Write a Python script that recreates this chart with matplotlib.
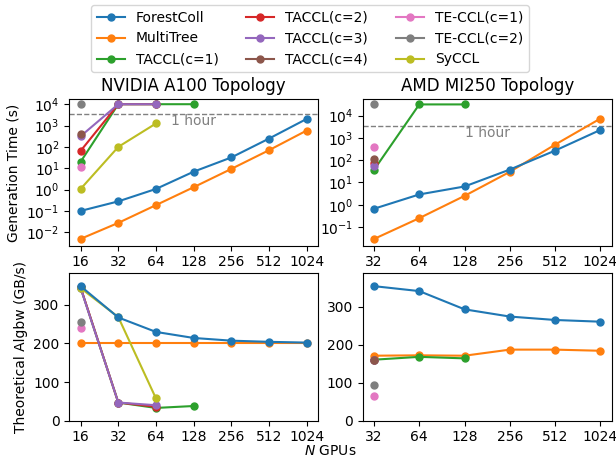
import numpy as np
import matplotlib
matplotlib.use("Agg")
import matplotlib.pyplot as plt
from matplotlib.ticker import NullLocator, FixedLocator, FixedFormatter
import matplotlib.transforms as mtrans

names = ["ForestColl", "MultiTree", "TACCL(c=1)", "TACCL(c=2)", "TACCL(c=3)",
         "TACCL(c=4)", "TE-CCL(c=1)", "TE-CCL(c=2)", "SyCCL"]
colors = ["C0", "C1", "C2", "C3", "C4", "C5", "C6", "C7", "C8"]

gpus_nv = [16, 32, 64, 128, 256, 512, 1024]
gpus_amd = [32, 64, 128, 256, 512, 1024]

# generation time (s), NVIDIA A100
time_nv = {
    "ForestColl": [0.1, 0.28, 1.07, 6.9, 32, 245, 2050],
    "MultiTree": [0.0049, 0.0275, 0.187, 1.29, 9.3, 70, 585],
    "TACCL(c=1)": [20, 1e4, 1e4, 1e4],
    "TACCL(c=2)": [65, 1e4, 1e4],
    "TACCL(c=3)": [316, 1e4, 1e4],
    "TACCL(c=4)": [420],
    "TE-CCL(c=1)": [11],
    "TE-CCL(c=2)": [1e4],
    "SyCCL": [1.07, 100, 1250],
}
# algbw (GB/s), NVIDIA A100
bw_nv = {
    "ForestColl": [348, 267, 229.6, 214, 207, 204, 202],
    "MultiTree": [200, 200, 200, 200, 200, 200, 200],
    "TACCL(c=1)": [344, 47, 33, 38],
    "TACCL(c=2)": [345, 47, 36],
    "TACCL(c=3)": [343, 47, 40],
    "TACCL(c=4)": [345],
    "TE-CCL(c=1)": [241],
    "TE-CCL(c=2)": [254],
    "SyCCL": [343, 268, 57.6],
}
# generation time (s), AMD MI250
time_amd = {
    "ForestColl": [0.66, 2.9, 6.6, 38, 270, 2290],
    "MultiTree": [0.029, 0.25, 2.5, 30, 500, 7400],
    "TACCL(c=1)": [37, 32000, 32000],
    "TACCL(c=2)": [72],
    "TACCL(c=3)": [57],
    "TACCL(c=4)": [118],
    "TE-CCL(c=1)": [385],
    "TE-CCL(c=2)": [32000],
    "SyCCL": [],
}
# algbw (GB/s), AMD MI250
bw_amd = {
    "ForestColl": [354, 341, 293, 274, 265, 260.5],
    "MultiTree": [171, 172, 171, 187, 187, 184],
    "TACCL(c=1)": [160.5, 168, 164],
    "TACCL(c=2)": [160],
    "TACCL(c=3)": [160],
    "TACCL(c=4)": [160],
    "TE-CCL(c=1)": [64],
    "TE-CCL(c=2)": [93],
    "SyCCL": [],
}

fig = plt.figure(figsize=(6.16, 4.59), dpi=100)
W, H = 616, 459
def ax_at(l, t, r, b):
    return fig.add_axes([l / W, 1 - b / H, (r - l) / W, (b - t) / H])

ax_nt = ax_at(69.3, 99.3, 318, 245.7)
ax_at_ = ax_at(362.7, 99.3, 611.7, 245.7)
ax_nb = ax_at(69.3, 272.7, 318, 420.7)
ax_ab = ax_at(362.7, 272.7, 611.7, 420.7)

def draw(ax, xs, data):
    for name, c in zip(names, colors):
        v = data[name]
        if len(v) == 0:
            continue
        z = 3 if name == "ForestColl" else 2
        ax.plot(xs[:len(v)], v, marker="o", color=c, lw=1.5, ms=5,
                label=name, zorder=z)

draw(ax_nt, gpus_nv, time_nv)
draw(ax_at_, gpus_amd, time_amd)
draw(ax_nb, gpus_nv, bw_nv)
draw(ax_ab, gpus_amd, bw_amd)

for ax, xs in [(ax_nt, gpus_nv), (ax_at_, gpus_amd), (ax_nb, gpus_nv), (ax_ab, gpus_amd)]:
    ax.set_xscale("log", base=2)
    ax.xaxis.set_major_locator(FixedLocator(xs))
    ax.xaxis.set_major_formatter(FixedFormatter([str(x) for x in xs]))
    ax.xaxis.set_minor_locator(NullLocator())

for ax, lo, hi, decs in [(ax_nt, -2.63, 4.23, range(-2, 5)), (ax_at_, -1.84, 4.735, range(-1, 5))]:
    ax.set_yscale("log")
    ax.set_ylim(10 ** lo, 10 ** hi)
    ax.yaxis.set_major_locator(FixedLocator([10.0 ** d for d in decs]))
    ax.yaxis.set_minor_locator(NullLocator())
    ax.axhline(3600, color="gray", ls="--", lw=1, zorder=1)
    tr = mtrans.blended_transform_factory(ax.transAxes, ax.transData)
    ax.text(0.5, 3600, "1 hour", transform=tr, ha="center", va="top",
            color="gray", fontsize=10)

ax_nb.set_ylim(0, 1.1 * max(bw_nv["ForestColl"]))
ax_ab.set_ylim(0, 1.1 * max(bw_amd["ForestColl"]))
ax_nb.set_yticks([0, 100, 200, 300])
ax_ab.set_yticks([0, 100, 200, 300])

ax_nt.set_title("NVIDIA A100 Topology", fontsize=12)
ax_at_.set_title("AMD MI250 Topology", fontsize=12)
ax_nt.set_ylabel("Generation Time (s)")
ax_nb.set_ylabel("Theoretical Algbw (GB/s)")
fig.text(330 / W, 1 - 451 / H, "$N$ GPUs", ha="center", va="center", fontsize=10)

handles, labels = ax_nt.get_legend_handles_labels()
fig.legend(handles, labels, loc="upper center", bbox_to_anchor=(310 / W, 1 + 2 / H),
           ncol=3, fontsize=10)

fig.savefig("out.png", dpi=100)
